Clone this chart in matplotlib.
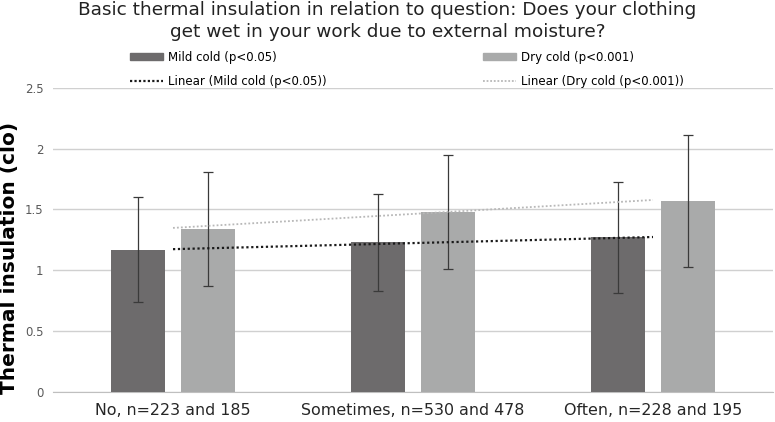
import numpy as np
import matplotlib
matplotlib.use("Agg")
import matplotlib.pyplot as plt
from matplotlib.lines import Line2D
from matplotlib.patches import Patch

# --- data ---
categories = ["No, n=223 and 185", "Sometimes, n=530 and 478", "Often, n=228 and 195"]
mild_mean = [1.17, 1.23, 1.27]
mild_sd = [0.43, 0.40, 0.46]
dry_mean = [1.34, 1.48, 1.57]
dry_sd = [0.47, 0.47, 0.54]
yticks = [0, 0.5, 1, 1.5, 2, 2.5]
ytick_labels = ["0", "0.5", "1", "1.5", "2", "2.5"]

C_MILD = "#6d6b6c"
C_DRY = "#a9aaaa"
C_ERR = "#3a3a3a"

fig = plt.figure(figsize=(7.75, 4.22), dpi=100)
ax = fig.add_axes([53 / 775, 1 - 391.7 / 422, 720 / 775, (391.7 - 88) / 422])

x = np.arange(len(categories))
bw = 0.225
off = 0.144
err_kw = dict(ecolor=C_ERR, elinewidth=0.9, capsize=3.5, capthick=0.9)
ax.bar(x - off, mild_mean, bw, yerr=mild_sd, color=C_MILD, error_kw=err_kw, zorder=2)
ax.bar(x + off, dry_mean, bw, yerr=dry_sd, color=C_DRY, error_kw=err_kw, zorder=2)

# linear trendlines (fitted over the category index)
xt = np.array([x[0], x[-1]])
pm = np.polyfit(x, mild_mean, 1)
pd_ = np.polyfit(x, dry_mean, 1)
ax.plot(xt, np.polyval(pm, xt), ls=(0, (1, 1.2)), color="#1a1a1a", lw=1.6, zorder=3)
ax.plot(xt, np.polyval(pd_, xt), ls=(0, (1, 1.2)), color="#b8b8b8", lw=1.3, zorder=3)

ax.set_xlim(-0.5, 2.5)
ax.set_ylim(0, 2.5)
ax.set_yticks(yticks)
ax.set_yticklabels(ytick_labels)
ax.set_xticks(x)
ax.set_xticklabels(categories, fontsize=11.4, color="#262626")
ax.tick_params(axis="y", length=0, labelsize=8.5, labelcolor="#595959", pad=7)
ax.tick_params(axis="x", length=0, pad=8)
ax.grid(axis="y", color="#d0d0d0", lw=1.0, zorder=0)
for s in ["top", "right", "left"]:
    ax.spines[s].set_visible(False)
ax.spines["bottom"].set_color("#bfbfbf")
ax.spines["bottom"].set_zorder(1)

ax.set_ylabel("Thermal insulation (clo)", fontsize=14.5, fontweight="bold")
ax.yaxis.set_label_coords(-0.047, 0.44)

# title, two lines
fig.text(0.5, 1 - 15 / 422, "Basic thermal insulation in relation to question: Does your clothing",
         ha="center", va="baseline", fontsize=13.3, color="#222222")
fig.text(0.5, 1 - 37 / 422, "get wet in your work due to external moisture?",
         ha="center", va="baseline", fontsize=13.3, color="#222222")

handles = [
    Patch(color=C_MILD),
    Line2D([], [], ls=(0, (1, 1)), color="#1a1a1a", lw=1.6),
    Patch(color=C_DRY),
    Line2D([], [], ls=(0, (1, 1)), color="#b8b8b8", lw=1.3),
]
labels = ["Mild cold (p<0.05)", "Linear (Mild cold (p<0.05))",
          "Dry cold (p<0.001)", "Linear (Dry cold (p<0.001))"]
fig.legend(handles, labels, ncol=2, loc="upper left",
           bbox_to_anchor=(130 / 775, 1 - 51 / 422), frameon=False,
           prop=dict(size=8.5),
           handlelength=2.8, handleheight=0.5, handletextpad=0.45,
           columnspacing=13.2, labelspacing=0.95, borderpad=0, borderaxespad=0)

fig.savefig("out.png", dpi=100, facecolor="white")
